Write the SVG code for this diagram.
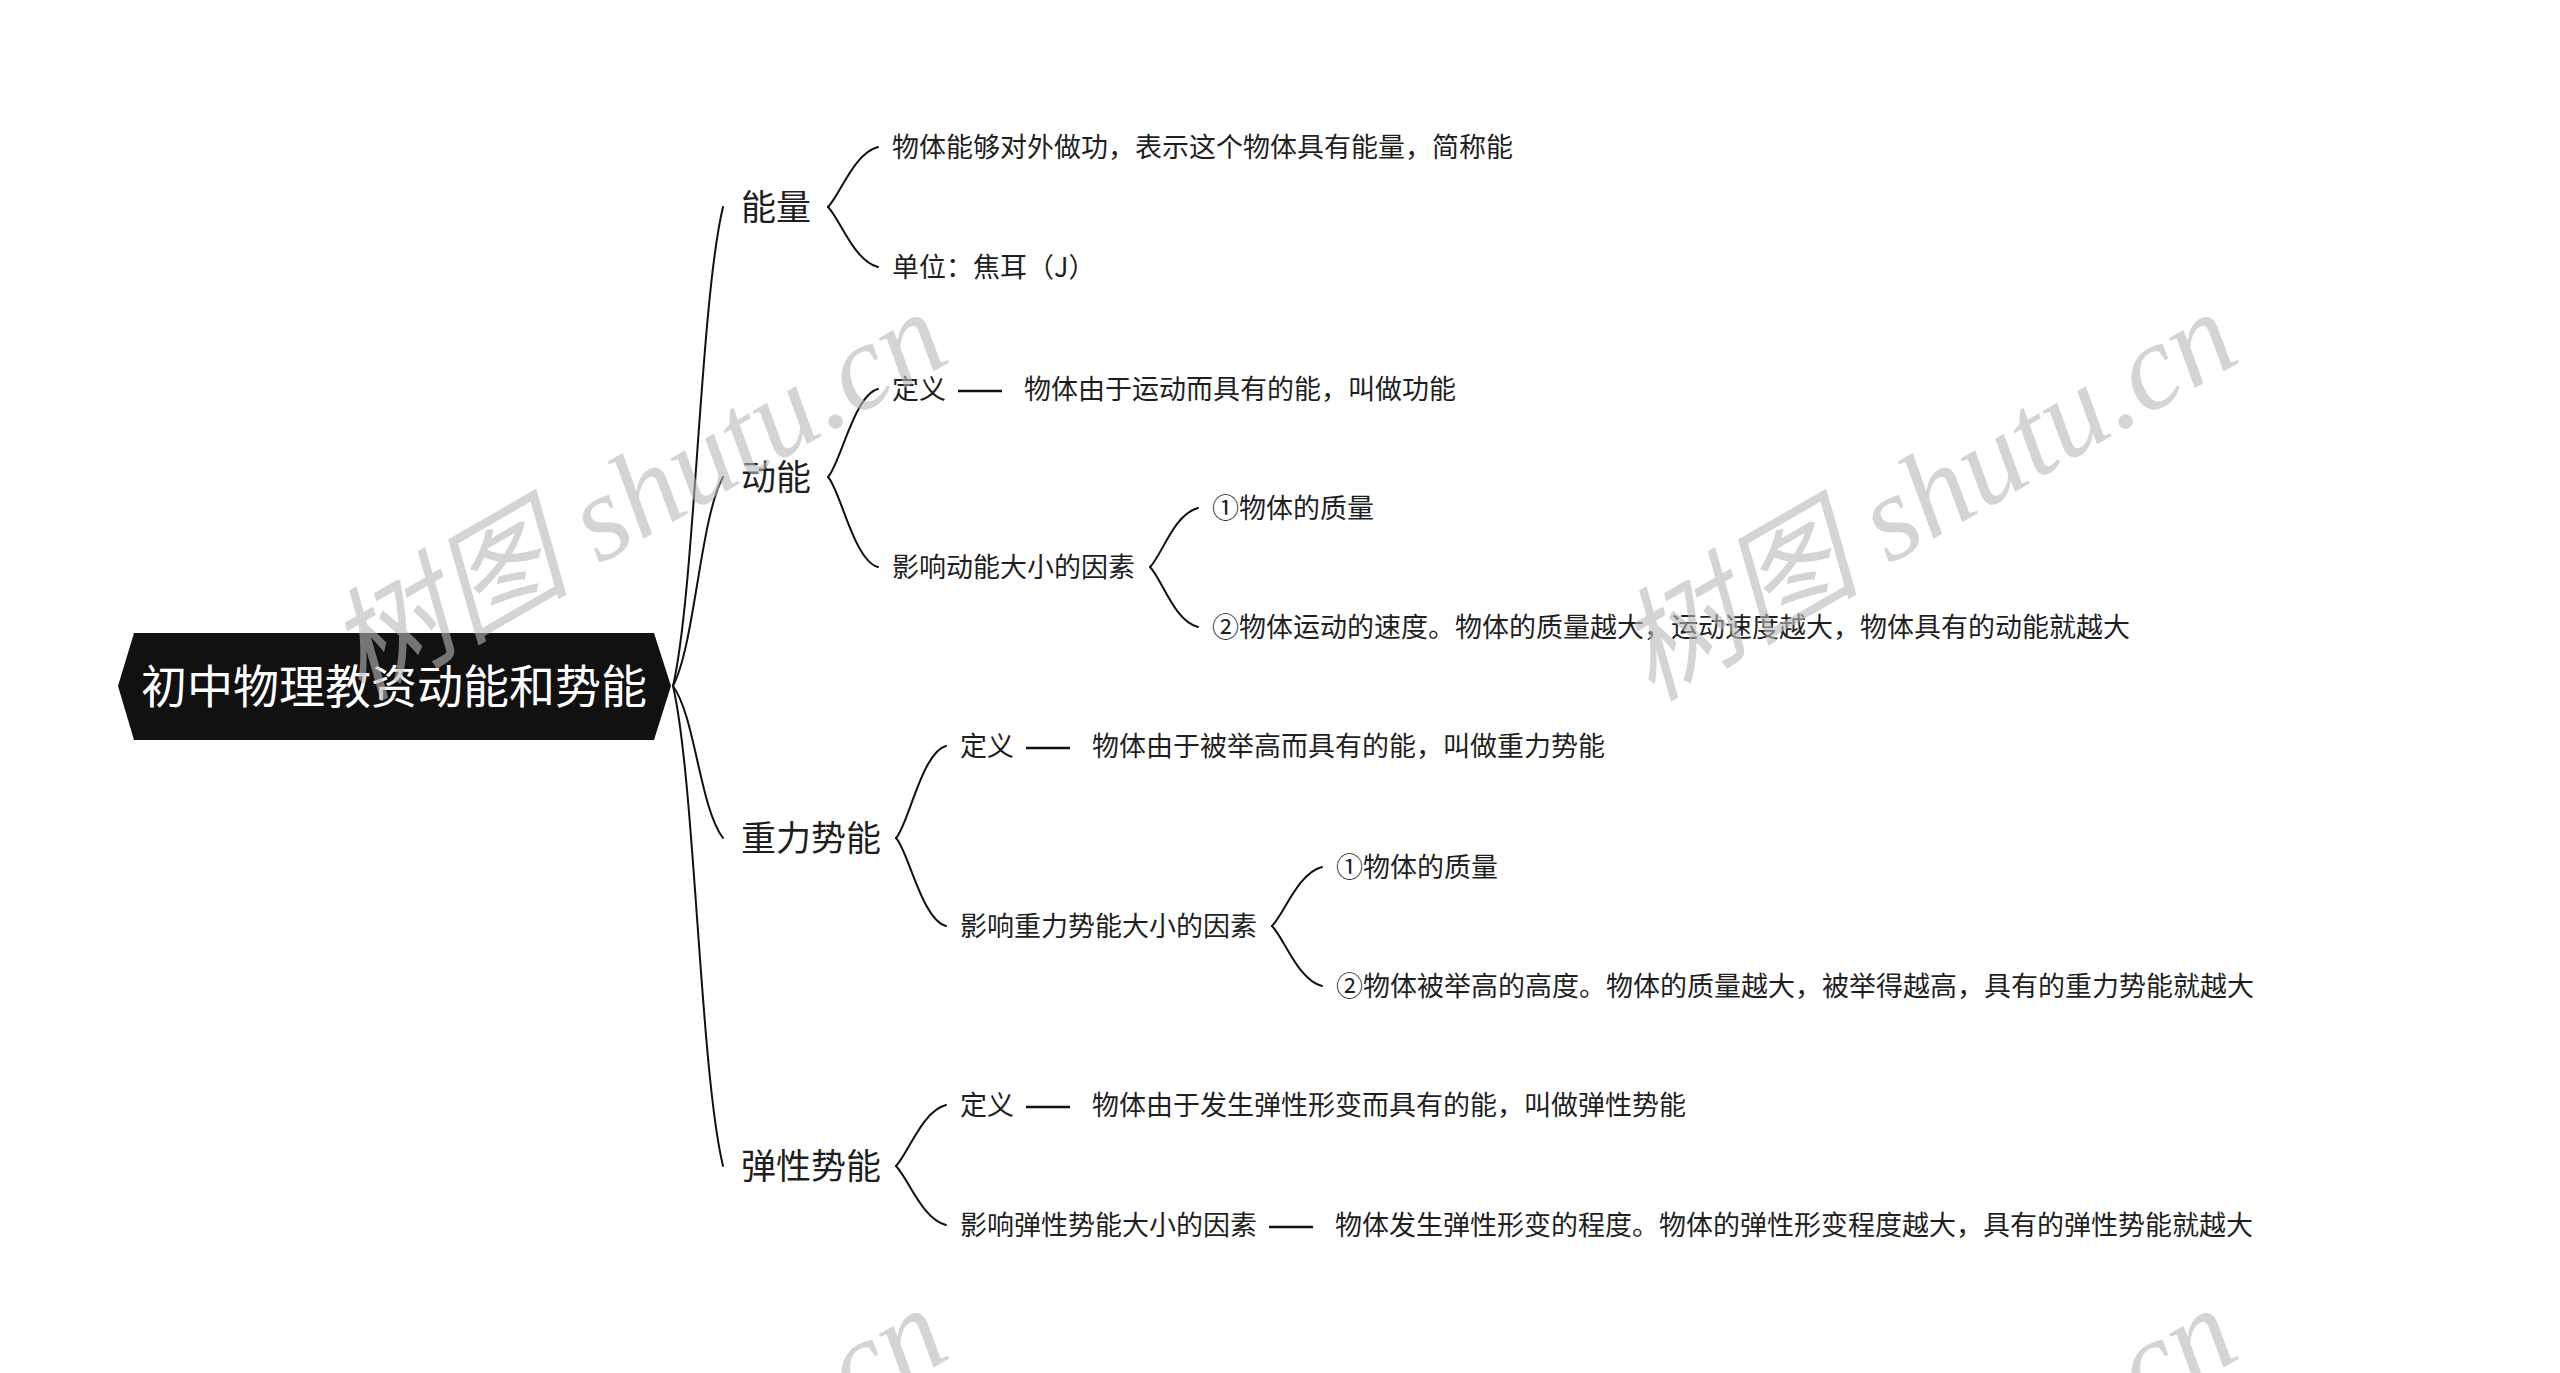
<svg xmlns="http://www.w3.org/2000/svg" width="2560" height="1373" viewBox="0 0 2560 1373">
<style>
.t{font-family:"Noto Sans CJK SC","Noto Sans",sans-serif;fill:#1f1f1f}
.l1{font-size:35px}
.l2{font-size:27px}
.root{font-family:"Noto Sans CJK SC","Noto Sans",sans-serif;font-size:46px;fill:#ffffff}
.c{fill:none;stroke:#111111;stroke-width:2;stroke-linecap:round}
.d{fill:none;stroke:#111111;stroke-width:2.5}
.wm{font-family:"Liberation Serif","Noto Sans CJK SC",serif;font-style:italic;font-size:122px;fill:#b8b8b8;opacity:0.6}
</style>
<rect width="2560" height="1373" fill="#ffffff"/>
<g id="connectors">
<path class="c" d="M673,686 C695,590 700,303 723,207"/>
<path class="c" d="M673,686 C695,644 700,519 723,477"/>
<path class="c" d="M673,686 C695,716 700,808 723,838"/>
<path class="c" d="M673,686 C695,782 700,1070 723,1166"/>
<path class="c" d="M828,207 C840,195 854,153 878,147"/>
<path class="c" d="M828,207 C840,219 854,261 878,267"/>
<path class="c" d="M828,477 C840,465 854,395 878,389"/>
<path class="c" d="M828,477 C840,489 854,561 878,567"/>
<path class="c" d="M1150,567 C1162,555 1174,514 1198,508"/>
<path class="c" d="M1150,567 C1162,579 1174,621 1198,627"/>
<path class="c" d="M896,838 C908,826 922,752 946,746"/>
<path class="c" d="M896,838 C908,850 922,920 946,926"/>
<path class="c" d="M1272,926 C1284,914 1298,873 1322,867"/>
<path class="c" d="M1272,926 C1284,938 1298,980 1322,986"/>
<path class="c" d="M896,1166 C908,1154 922,1111 946,1105"/>
<path class="c" d="M896,1166 C908,1178 922,1219 946,1225"/>
<line class="d" x1="958" y1="391" x2="1002" y2="391"/>
<line class="d" x1="1026" y1="748" x2="1070" y2="748"/>
<line class="d" x1="1026" y1="1107" x2="1070" y2="1107"/>
<line class="d" x1="1269" y1="1227" x2="1313" y2="1227"/>
</g>
<g id="root">
<polygon points="118,686 134,633 654,633 671,686 654,740 134,740" fill="#111111"/>
<text class="root" x="394" y="703" text-anchor="middle">初中物理教资动能和势能</text>
</g>
<g id="n-nengliang"><text class="t l1" x="741" y="220">能量</text></g>
<g id="n-nengliang-1"><text class="t l2" x="892" y="157">物体能够对外做功，表示这个物体具有能量，简称能</text></g>
<g id="n-nengliang-2"><text class="t l2" x="892" y="277">单位：焦耳（J）</text></g>
<g id="n-dongneng"><text class="t l1" x="741" y="490">动能</text></g>
<g id="n-dongneng-def"><text class="t l2" x="892" y="399">定义</text></g>
<g id="n-dongneng-def-v"><text class="t l2" x="1024" y="399">物体由于运动而具有的能，叫做功能</text></g>
<g id="n-dongneng-f"><text class="t l2" x="892" y="577">影响动能大小的因素</text></g>
<g id="n-dongneng-f1"><text class="t l2" x="1212" y="518">①物体的质量</text></g>
<g id="n-dongneng-f2"><text class="t l2" x="1212" y="637">②物体运动的速度。物体的质量越大，运动速度越大，物体具有的动能就越大</text></g>
<g id="n-zhongli"><text class="t l1" x="741" y="851">重力势能</text></g>
<g id="n-zhongli-def"><text class="t l2" x="960" y="756">定义</text></g>
<g id="n-zhongli-def-v"><text class="t l2" x="1092" y="756">物体由于被举高而具有的能，叫做重力势能</text></g>
<g id="n-zhongli-f"><text class="t l2" x="960" y="936">影响重力势能大小的因素</text></g>
<g id="n-zhongli-f1"><text class="t l2" x="1336" y="877">①物体的质量</text></g>
<g id="n-zhongli-f2"><text class="t l2" x="1336" y="996">②物体被举高的高度。物体的质量越大，被举得越高，具有的重力势能就越大</text></g>
<g id="n-tanxing"><text class="t l1" x="741" y="1179">弹性势能</text></g>
<g id="n-tanxing-def"><text class="t l2" x="960" y="1115">定义</text></g>
<g id="n-tanxing-def-v"><text class="t l2" x="1092" y="1115">物体由于发生弹性形变而具有的能，叫做弹性势能</text></g>
<g id="n-tanxing-f"><text class="t l2" x="960" y="1235">影响弹性势能大小的因素</text></g>
<g id="n-tanxing-f-v"><text class="t l2" x="1335" y="1235">物体发生弹性形变的程度。物体的弹性形变程度越大，具有的弹性势能就越大</text></g>
<g id="watermark">
<text class="wm" transform="translate(361,702) rotate(-30)">树图 shutu.cn</text>
<text class="wm" transform="translate(1651,702) rotate(-30)">树图 shutu.cn</text>
<text class="wm" transform="translate(361,1698) rotate(-30)">树图 shutu.cn</text>
<text class="wm" transform="translate(1651,1698) rotate(-30)">树图 shutu.cn</text>
</g>
</svg>
